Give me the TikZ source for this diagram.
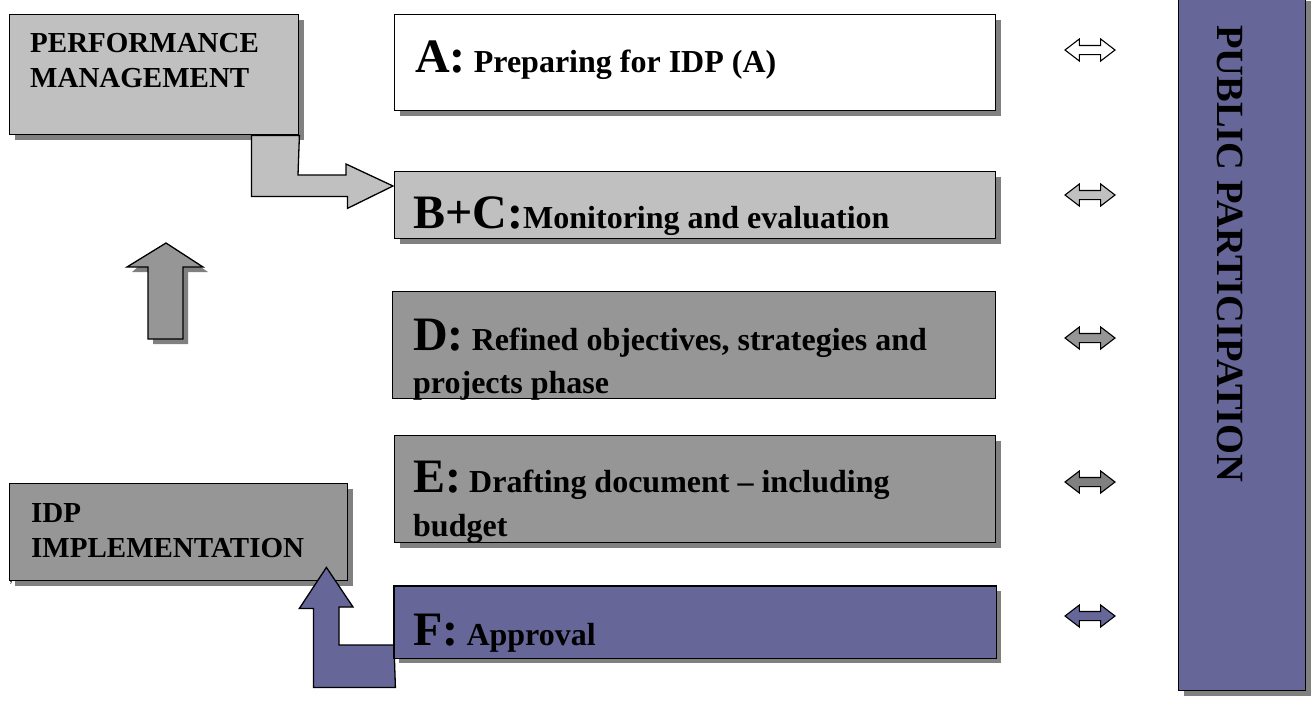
\documentclass[tikz,border=0pt]{standalone}
\usepackage{fontspec}
\setmainfont{Liberation Serif}
\usetikzlibrary{calc,shadows,shapes.arrows}
\definecolor{lgray}{HTML}{C0C0C0}
\definecolor{mgray}{HTML}{969696}
\definecolor{dgray}{HTML}{808080}
\definecolor{slate}{HTML}{666699}
\definecolor{shadc}{HTML}{808080}
\newcommand\lettrfont{\bfseries\fontsize{48}{50}\selectfont}
\newcommand\bodyfont{\bfseries\fontsize{32}{40}\selectfont}
\newcommand\sidefont{\bfseries\fontsize{29}{35}\selectfont}
\newcommand\ppfont{\bfseries\fontsize{38.5}{40}\selectfont}
\begin{document}
\begin{tikzpicture}[x=1pt,y=-1pt,
  stagebox/.style={draw=black, line width=1.4pt, rectangle, anchor=north west, inner sep=0pt, minimum width=601pt},
  shd/.style={copy shadow={shadow xshift=5pt, shadow yshift=-5pt, fill=shadc, draw=none}},
  txt/.style={anchor=base west, inner sep=0pt},
  blockarrow/.style={draw=black, line width=1.3pt, line join=miter},
  blockshadow/.style={fill=shadc, shift={(5pt,-5pt)}},
  darr/.style={double arrow, draw=black, line width=1.1pt, minimum height=50pt, minimum width=1pt,
    inner xsep=0pt, inner ysep=4pt, double arrow head extend=6.5pt, double arrow tip angle=75}
]
\useasboundingbox (0,0) rectangle (1314,707);
\fill[white] (0,0) rectangle (1314,707);

% left boxes
\node[stagebox, shd, fill=lgray, minimum width=289pt, minimum height=120pt] (pm) at (9,14) {};
\node[stagebox, shd, fill=mgray, minimum width=338pt, minimum height=97pt] (idp) at (9,483) {};
\node[txt, font=\sidefont] (pmt1) at (30,52) {PERFORMANCE};
\node[txt, font=\sidefont] (pmt2) at (30,87) {MANAGEMENT};
\node[txt, font=\sidefont] (idpt1) at (31,522) {IDP};
\node[txt, font=\sidefont] (idpt2) at (31,557) {IMPLEMENTATION};
\node[anchor=base, inner sep=0pt, font=\fontsize{12}{12}\selectfont] (comma) at (11,582) {,};

% stage boxes
\node[stagebox, shd, fill=white, minimum height=96pt] (A) at (394,14) {};
\node[stagebox, shd, fill=lgray, minimum height=67pt] (BC) at (394,171) {};
\node[stagebox, fill=mgray, minimum width=603pt, minimum height=107pt] (D) at (392,291) {};
\node[stagebox, shd, fill=mgray, minimum height=107pt] (E) at (394,435) {};

% elbow arrow PM -> B+C
\coordinate (gtip) at ($(BC.north west)+(-1,15)$);
\fill[blockshadow] (pm.south east) ++(-48,0) -- ++(0,61) -- ++(96,0) -- ++(0,12) -- (gtip) -- ++(-47,-22) -- ++(0,11) -- ++(-48,0) -- (pm.south east) -- cycle;
\draw[blockarrow, fill=lgray] (pm.south east) ++(-48,0) -- ++(0,61) -- ++(96,0) -- ++(0,12) -- (gtip) -- ++(-47,-22) -- ++(0,11) -- ++(-48,0) -- (pm.south east) -- cycle;

% up arrow (implementation -> performance management)
\coordinate (utip) at (166,243);
\fill[blockshadow] (utip) -- (203,267) -- (183,267) -- (183,339) -- (148,339) -- (148,267) -- (127,267) -- cycle;
\draw[blockarrow, fill=mgray] (utip) -- (203,267) -- (183,267) -- (183,339) -- (148,339) -- (148,267) -- (127,267) -- cycle;

% F box and L arrow F -> IDP
\node[stagebox, minimum height=71pt, draw=none] (F) at (394,586) {};
\coordinate (ftip) at ($(idp.south east)+(-22,-14)$);
\coordinate (fcorner) at ($(F.north west)+(0,59)$);
\fill[blockshadow] (fcorner) -- ++(-55,0) -- ++(0,-38) -- ++(14,0) -- (ftip) -- ++(-27,41) -- ++(14,0) -- ++(0,79) -- ++(82,0) -- cycle;
\fill[shadc] ($(F.north west)+(5,5)$) rectangle ($(F.south east)+(5,5)$);
\draw[blockarrow, fill=slate] (fcorner) -- ++(-55,0) -- ++(0,-38) -- ++(14,0) -- (ftip) -- ++(-27,41) -- ++(14,0) -- ++(0,79) -- ++(82,0) -- cycle;
\draw[line width=1.4pt, fill=slate] (F.north west) rectangle (F.south east);

% stage texts
\node[txt] (At) at (415,72) {\lettrfont A:\bodyfont{} Preparing for IDP (A)};
\node[txt] (BCt) at (413,228) {\lettrfont B+C:\bodyfont Monitoring and evaluation};
\begin{scope}
\clip (D.north west) rectangle (D.south east);
\node[txt] (Dt1) at (413,350) {\lettrfont D:\bodyfont{} Refined objectives, strategies and};
\node[txt, font=\bodyfont] (Dt2) at (413,393) {projects phase};
\end{scope}
\begin{scope}
\clip (E.north west) rectangle (E.south east);
\node[txt] (Et1) at (413,492) {\lettrfont E:\bodyfont{} Drafting document – including};
\node[txt, font=\bodyfont] (Et2) at (413,536) {budget};
\end{scope}
\node[txt] (Ft) at (413,645) {\lettrfont F:\bodyfont{} Approval};

% public participation
\node[stagebox, shd, fill=slate, minimum width=127pt, minimum height=695pt] (pp) at (1178,-5) {};
\node[rotate=-90, anchor=west, inner sep=0pt, font=\ppfont] (ppt) at (1230,25) {PUBLIC PARTICIPATION};

% double arrows
\node[darr, fill=white] (d1) at (1090,50) {};
\node[darr, fill=lgray] (d2) at (1090,195) {};
\node[darr, fill=mgray] (d3) at (1090,338) {};
\node[darr, fill=dgray] (d4) at (1090,482) {};
\node[darr, fill=slate] (d5) at (1090,616) {};
\end{tikzpicture}
\end{document}
